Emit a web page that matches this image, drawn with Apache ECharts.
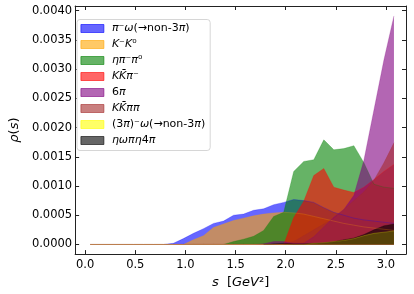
<!DOCTYPE html>
<html><head><meta charset="utf-8">
<script src="https://cdn.jsdelivr.net/npm/echarts@6/dist/echarts.min.js"></script>
<style>html,body{margin:0;padding:0;background:#fff}#c{width:414px;height:294px}</style>
</head><body><div id="c"></div>
<script>
// s grid [GeV^2]
const xs = [0.05,0.18,0.28,0.38,0.48,0.58,0.68,0.78,0.88,0.98,1.08,1.18,1.28,1.38,1.48,1.58,1.68,1.78,1.88,1.98,2.08,2.18,2.28,2.38,2.48,2.58,2.68,2.78,2.88,2.98,3.08];

const piOmega      = [0,0,0,0,0,0,0,0,0.00002,0.00010,0.00019,0.00027,0.00036,0.00040,0.00050,0.00052,0.000585,0.00061,0.00068,0.00072,0.00077,0.00075,0.00072,0.00063,0.00055,0.00050,0.00045,0.00042,0.00040,0.00038,0.00036];
const kK0          = [0,0,0,0,0,0,0,0,0,0,0.00008,0.00015,0.00029,0.00035,0.00041,0.00045,0.00049,0.00052,0.00054,0.00055,0.00054,0.00052,0.00048,0.00044,0.00040,0.00036,0.00033,0.00030,0.00028,0.00026,0.00024];
const etaPiPi0     = [0,0,0,0,0,0,0,0,0,0,0,0,0,0,0.00005,0.00009,0.00014,0.00024,0.00048,0.00055,0.00125,0.00142,0.00145,0.00179,0.00162,0.00164,0.00169,0.00140,0.00103,0.00098,0.00096];
const kKbarPi      = [0,0,0,0,0,0,0,0,0,0,0,0,0,0,0,0,0,0,0,0,0.00046,0.00074,0.00118,0.00130,0.00098,0.00093,0.00089,0.00098,0.00111,0.00125,0.00137];
const sixPi        = [0,0,0,0,0,0,0,0,0,0,0,0,0,0,0,0,0,0.00001,0.00005,0.00005,0.00002,0.00002,0.00013,0.00030,0.000465,0.00060,0.00084,0.00144,0.00230,0.00316,0.00391];
const kKbarPiPi    = [0,0,0,0,0,0,0,0,0,0,0,0,0,0,0,0,0,0,0,0.00001,0.00005,0.00015,0.00025,0.00035,0.00045,0.00060,0.00075,0.00090,0.00110,0.00140,0.00174];
const threePiOmega = [0,0,0,0,0,0,0,0,0,0,0,0,0,0,0,0,0,0,0,0,0,0,0.00002,0.00003,0.00005,0.00007,0.00010,0.00015,0.00019,0.00021,0.00023];
const etaOmegaRest = [null,null,null,null,null,null,null,null,null,null,null,null,null,null,null,null,null,0,0.00001,0.00002,0.00001,0.00001,0.00002,0.00003,0.00005,0.00008,0.00011,0.00017,0.00025,0.00032,0.00035];

const names = ['π⁻ω(→non-3π)','K⁻K⁰','ηπ⁻π⁰','KK\u0304π⁻','6π','KK\u0304ππ','(3π)⁻ω(→non-3π)','ηωπη4π'];
const xTicks = [0,0.5,1,1.5,2,2.5,3];
const yTicks = [0,0.0005,0.001,0.0015,0.002,0.0025,0.003,0.0035,0.004];

const allSeries = [piOmega,kK0,etaPiPi0,kKbarPi,sixPi,kKbarPiPi,threePiOmega,etaOmegaRest];
const colors = [[0,0,255],[255,165,0],[0,128,0],[255,0,0],[128,0,128],[165,42,42],[255,255,0],[0,0,0]];
const rgb = c => `rgb(${c[0]},${c[1]},${c[2]})`;
const rgba = (c,a) => `rgba(${c[0]},${c[1]},${c[2]},${a})`;
const FONT = 'DejaVu Sans';
const axisCol = '#222';

const series = allSeries.map((arr,i)=>({
  name: names[i], type:'line', symbol:'none', showSymbol:false,
  data: xs.map((x,j)=> arr[j]==null ? null : [x, arr[j]]).filter(d=>d),
  lineStyle:{color:rgb(colors[i]), opacity:0.3, width:0.8},
  areaStyle:{color:rgb(colors[i]), opacity:0.6, origin:'auto'},
  itemStyle:{color:rgba(colors[i],0.6), borderColor:rgba(colors[i],0.75), borderWidth:0.8},
  emphasis:{disabled:true}
}));

function mathRich(n){
  return '{g|}' + n.replace(/(K\u0304|[πωηK])/g, '{i|$1}');
}

const xBase = {type:'value', min:-0.1, max:3.2, splitLine:{show:false}};
const yBase = {type:'value', min:-0.000165, max:0.00408, splitLine:{show:false}};

const option = {
  animation:false,
  backgroundColor:'#fff',
  grid:{left:64, right:8, top:6, bottom:39},
  legend:{
    orient:'vertical', left:77, top:19.5, icon:'rect', itemWidth:23, itemHeight:8, itemGap:4.0,
    padding:[3,5,4,3.5], backgroundColor:'#fff', borderColor:'#d6d6d6', borderWidth:1, borderRadius:3,
    data: names,
    lineStyle:{width:0},
    itemStyle:{borderWidth:0.8},
    formatter: mathRich,
    textStyle:{fontFamily:FONT, fontSize:11, color:'#000', lineHeight:12,
      rich:{ i:{fontFamily:FONT, fontSize:11, fontStyle:'italic', color:'#000', lineHeight:12},
             g:{width:3} }}
  },
  xAxis:[
    Object.assign({}, xBase, {position:'bottom',
      axisLine:{show:true, onZero:false, lineStyle:{color:axisCol, width:1}},
      axisTick:{show:true, inside:true, length:4, customValues:xTicks, lineStyle:{color:axisCol}},
      axisLabel:{customValues:xTicks, formatter:v=>v.toFixed(1), fontFamily:FONT, fontSize:11.5, color:'#000', margin:5},
      name:'{i|s}  [{i|GeV}²]', nameLocation:'middle', nameGap:17,
      nameTextStyle:{fontFamily:FONT, fontSize:13, color:'#000', rich:{i:{fontFamily:FONT, fontSize:13, fontStyle:'italic', color:'#000'}}}
    }),
    Object.assign({}, xBase, {position:'top',
      axisLine:{show:true, onZero:false, lineStyle:{color:axisCol, width:1}},
      axisTick:{show:true, inside:true, length:4, customValues:xTicks, lineStyle:{color:axisCol}},
      axisLabel:{show:false, customValues:xTicks}
    })
  ],
  yAxis:[
    Object.assign({}, yBase, {position:'left',
      axisLine:{show:true, onZero:false, lineStyle:{color:axisCol, width:1}},
      axisTick:{show:true, inside:true, length:4, customValues:yTicks, lineStyle:{color:axisCol}},
      axisLabel:{customValues:yTicks, formatter:v=>v.toFixed(4), fontFamily:FONT, fontSize:11.5, color:'#000', margin:3},
      name:'{i|ρ}({i|s})', nameLocation:'middle', nameGap:47,
      nameTextStyle:{fontFamily:FONT, fontSize:13, color:'#000', rich:{i:{fontFamily:FONT, fontSize:13, fontStyle:'italic', color:'#000'}}}
    }),
    Object.assign({}, yBase, {position:'right',
      axisLine:{show:true, onZero:false, lineStyle:{color:axisCol, width:1}},
      axisTick:{show:true, inside:true, length:4, customValues:yTicks, lineStyle:{color:axisCol}},
      axisLabel:{show:false, customValues:yTicks}
    })
  ],
  series: series
};
const chart = echarts.init(document.getElementById('c'), null, {renderer:'canvas'});
chart.setOption(option);
</script></body></html>
